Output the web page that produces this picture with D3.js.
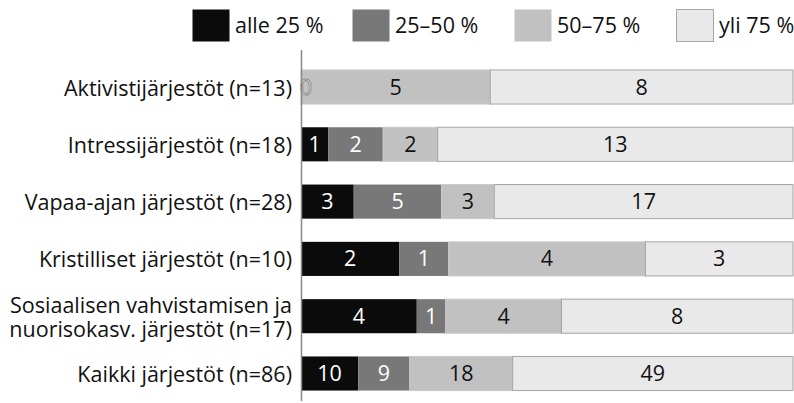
<!DOCTYPE html>
<html>
<head>
<meta charset="utf-8">
<script src="https://cdn.jsdelivr.net/npm/d3@7"></script>
<style>
  body { margin: 0; background: #fff; }
  svg text { font-family: "Open Sans", "Noto Sans", sans-serif; }
</style>
</head>
<body>
<div id="chart"></div>
<script>
// categories (label lines) and series
var categories = [
  ["Aktivistijärjestöt (n=13)"],
  ["Intressijärjestöt (n=18)"],
  ["Vapaa-ajan järjestöt (n=28)"],
  ["Kristilliset järjestöt (n=10)"],
  ["Sosiaalisen vahvistamisen ja", "nuorisokasv. järjestöt (n=17)"],
  ["Kaikki järjestöt (n=86)"]
]
var seriesNames = ["alle 25 %", "25–50 %", "50–75 %", "yli 75 %"]
var alle25  = [0, 1, 3, 2, 4, 10]
var v25_50  = [0, 2, 5, 1, 1, 9]
var v50_75  = [5, 2, 3, 4, 4, 18]
var yli75   = [8, 13, 17, 3, 8, 49]

var colors = ["#0b0b0b", "#787878", "#c1c1c1", "#e9e9e9"]
var textColors = ["#fff", "#fff", "#111", "#111"]

var width = 794, height = 403
var margin = {top: 58.5, left: 301, right: 1, bottom: 1}
var fontSize = "21.5px"

var svg = d3.select("#chart").append("svg")
  .attr("width", width)
  .attr("height", height)

var series = [alle25, v25_50, v50_75, yli75]
var rows = categories.map(function(c, i) {
  var total = d3.sum(series, function(s) { return s[i] })
  var start = 0
  var segs = series.map(function(s, k) {
    var seg = {k: k, v: s[i], x0: start / total, x1: (start + s[i]) / total}
    start += s[i]
    return seg
  })
  return {i: i, label: c, segs: segs}
})

var x = d3.scaleLinear().domain([0, 1]).range([margin.left, width - margin.right])
var y = d3.scaleBand().domain(d3.range(categories.length))
  .range([margin.top, height - margin.bottom]).paddingInner(0.405).paddingOuter(0.2)

// legend
var legendX = [192, 352, 514, 676]
var legend = svg.append("g")
seriesNames.forEach(function(name, k) {
  legend.append("rect")
    .attr("x", legendX[k] + 0.5).attr("y", 9.5)
    .attr("width", 37).attr("height", 32)
    .attr("fill", colors[k])
    .attr("stroke", k == 3 ? "#a5a5a5" : "none")
  legend.append("text")
    .attr("x", legendX[k] + 43).attr("y", 25.5)
    .attr("dy", "0.35em")
    .style("font-size", fontSize)
    .attr("fill", "#111")
    .text(name)
})

var row = svg.selectAll(".row")
  .data(rows)
  .enter().append("g")
    .attr("class", "row")
    .attr("transform", function(d) { return "translate(0," + y(d.i) + ")" })

row.selectAll("rect")
  .data(function(d) { return d.segs.filter(function(s) { return s.v > 0 }) })
  .enter().append("rect")
    .attr("x", function(s) { return x(s.x0) })
    .attr("y", 0)
    .attr("width", function(s) { return x(s.x1) - x(s.x0) })
    .attr("height", y.bandwidth())
    .attr("fill", function(s) { return colors[s.k] })
    .attr("stroke", function(s) { return s.k == 3 ? "#a5a5a5" : (s.k == 2 ? "#c9c9c9" : "none") })
    .attr("stroke-width", 1)

// value labels; a zero segment gets one outlined "0" at the bar start
row.selectAll(".val")
  .data(function(d) {
    return d.segs.filter(function(s, k) { return s.v > 0 || k == 0 })
  })
  .enter().append("text")
    .attr("class", "val")
    .attr("x", function(s) { return s.v > 0 ? (x(s.x0) + x(s.x1)) / 2 : x(s.x0) + 5 })
    .attr("y", y.bandwidth() / 2)
    .attr("dy", "0.35em")
    .attr("text-anchor", "middle")
    .style("font-size", fontSize)
    .attr("fill", function(s) { return textColors[s.k] })
    .attr("stroke", function(s) { return s.v == 0 ? "#8a8a8a" : "none" })
    .attr("stroke-width", 1)
    .text(function(s) { return s.v })

row.append("text")
  .attr("text-anchor", "end")
  .attr("x", margin.left - 9)
  .attr("y", function(d) { return y.bandwidth() / 2 + 1 - (d.label.length - 1) * 12 })
  .style("font-size", fontSize)
  .attr("fill", "#111")
  .selectAll("tspan")
  .data(function(d) { return d.label })
  .enter().append("tspan")
    .attr("x", margin.left - 9)
    .attr("dy", function(l, j) { return j == 0 ? "0.35em" : "24px" })
    .text(function(l) { return l })

// vertical axis line
svg.append("line")
  .attr("x1", margin.left + 0.5).attr("x2", margin.left + 0.5)
  .attr("y1", 50).attr("y2", 401)
  .attr("stroke", "#888").attr("stroke-width", 1.5)
</script>
</body>
</html>
